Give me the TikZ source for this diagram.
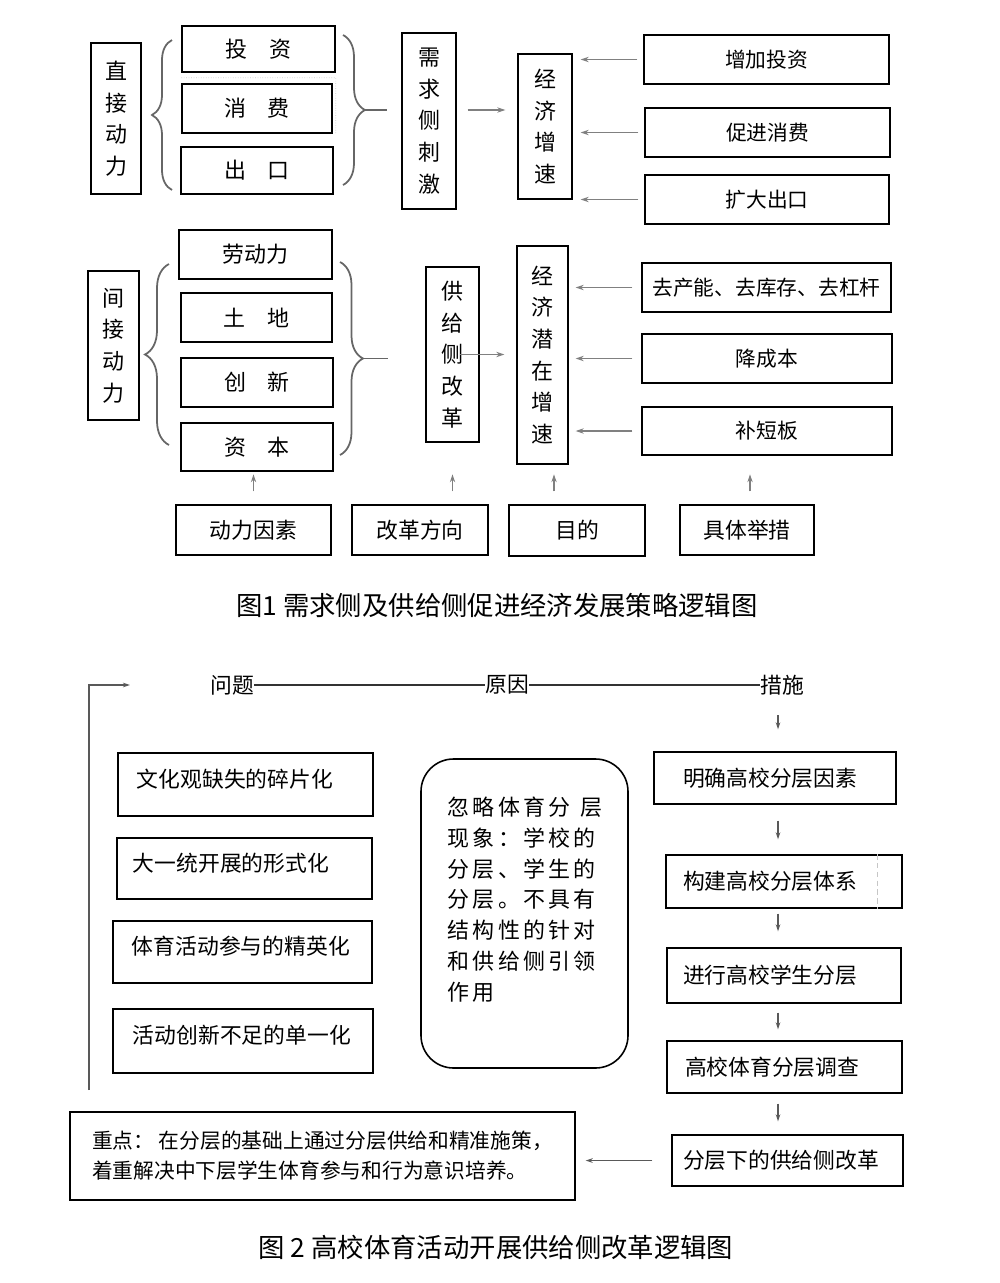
\documentclass[tikz,border=0pt]{standalone}
\usepackage{fontspec}
\setmainfont{Noto Sans CJK SC}
\newfontfamily\spacedfont[LetterSpace=15]{Noto Sans CJK SC}
\usetikzlibrary{arrows.meta,decorations.pathreplacing}

\newcommand{\boxfont}{\fontsize{12.5}{18}\selectfont}
\newcommand{\rightfont}{\fontsize{11.8}{14}\selectfont}
\newcommand{\planfont}{\fontsize{12.4}{15}\selectfont}
\newcommand{\notefont}{\fontsize{11.8}{17}\selectfont}
\newcommand{\roundfont}{\spacedfont\fontsize{12.5}{17.6}\selectfont}
\newcommand{\capfont}{\fontsize{15}{18}\selectfont}

\tikzset{
  box/.style={draw, line width=0.8pt, inner sep=0pt},
  itembox/.style={box, font=\boxfont},
  vbox/.style={box, align=center, font=\boxfont},
  rbox/.style={box, font=\rightfont},
  pbox/.style={box, align=left, font=\planfont},
  qbox/.style={pbox, text height=0.85em, text depth=0.55em},
  brc/.style={decorate, decoration={brace, amplitude=#1}, black!60, line width=1pt},
  garrow/.style={-{Stealth[length=4.5pt,width=3pt]}, black!50, line width=0.9pt},
  darr/.style={-{Stealth[length=4pt,width=2.6pt]}, black!65, line width=0.7pt},
}

\begin{document}
\begin{tikzpicture}[x=0.2mm, y=-0.2mm]
\path[fill=white] (0,0) rectangle (1000,1283);
\useasboundingbox (0,0) rectangle (1000,1283);

%Figure 1, demand side
\node[vbox, minimum width=10mm, minimum height=30.2mm] (zjdl) at (116,118.5) {直\\接\\动\\力};
\node[itembox, minimum width=30.6mm, minimum height=9.2mm] (tz) at (258.5,49) {投\quad 资};
\node[itembox, minimum width=30mm, minimum height=9.8mm] (xf) at (257,108.5) {消\quad 费};
\node[itembox, minimum width=30.4mm, minimum height=9.4mm] (ck) at (257,170.5) {出\quad 口};
\draw[gray!40, densely dotted] ([yshift=-1mm]tz.south west) -- ([yshift=-1mm]tz.south east) -- ([xshift=0.6mm]xf.south east);

\draw[brc=4mm] (172,190) -- (172,40);
\draw[brc=4.4mm] (343,35) -- (343,185);
\coordinate (rb1) at (387,110);
\draw[black!60, line width=1pt] ([xshift=-4.4mm]rb1) -- (rb1);

\node[vbox, minimum width=10.8mm, minimum height=35.2mm] (xqc) at (429,121) {需\\求\\侧\\刺\\激};
\node[vbox, minimum width=10.8mm, minimum height=29mm] (jjzs) at (545,126.5) {经\\济\\增\\速};
\draw[garrow, shorten <=2.2mm, shorten >=2.4mm] (rb1 -| xqc.east) -- (rb1 -| jjzs.west);

\node[rbox, minimum width=49mm, minimum height=9.8mm] (zjtz) at (766.5,59.5) {增加投资};
\node[rbox, minimum width=49mm, minimum height=9.8mm] (cjxf) at (767.5,132.5) {促进消费};
\node[rbox, minimum width=48.8mm, minimum height=9.8mm] (kdck) at (767,199.5) {扩大出口};
\foreach \n in {zjtz,cjxf,kdck}
  \draw[garrow, shorten <=1.2mm, shorten >=1.6mm] (\n.west) -- (\n.west -| jjzs.east);

%Figure 1, supply side
\node[vbox, minimum width=10.2mm, minimum height=29.8mm] (jjdl) at (113.5,345.5) {间\\接\\动\\力};
\node[itembox, minimum width=30.6mm, minimum height=9.8mm] (ldl) at (255.5,254.5) {劳动力};
\node[itembox, minimum width=30.2mm, minimum height=9.8mm] (td) at (256.5,317.5) {土\quad 地};
\node[itembox, minimum width=30.4mm, minimum height=9.8mm] (cx) at (257,382.5) {创\quad 新};
\node[itembox, minimum width=30.4mm, minimum height=9.6mm] (zb) at (257,447) {资\quad 本};

\draw[brc=4.8mm] (169,445) -- (169,264);
\draw[brc=4.6mm] (340,262) -- (340,455);
\coordinate (rb2) at (388,358.5);
\draw[black!60, line width=1pt] ([xshift=-5mm]rb2) -- (rb2);

\node[vbox, minimum width=10.6mm, minimum height=35mm] (gjc) at (452.5,354.5) {供\\给\\侧\\改\\革};
\node[vbox, minimum width=10.2mm, minimum height=43.6mm] (jjqz) at (542.5,355) {经\\济\\潜\\在\\增\\速};
\draw[garrow, shorten >=2.4mm] ([xshift=1.5mm]gjc.center) -- (gjc.center -| jjqz.west);

\node[rbox, minimum width=49.8mm, minimum height=9.8mm] (qcn) at (766.5,287.5) {去产能、去库存、去杠杆};
\node[rbox, minimum width=50mm, minimum height=9.8mm] (jcb) at (767,358.5) {降成本};
\node[rbox, minimum width=50mm, minimum height=9.6mm] (bdb) at (767,431) {补短板};
\foreach \n in {qcn,jcb,bdb}
  \draw[garrow, shorten <=1.8mm, shorten >=1.4mm] (\n.west) -- (\n.west -| jjqz.east);

%Row labels
\node[rbox, font=\planfont, minimum width=31mm, minimum height=10mm] (dlys) at (253.5,530) {动力因素};
\node[rbox, font=\planfont, minimum width=27.2mm, minimum height=10mm] (ggfx) at (420,530) {改革方向};
\node[rbox, font=\planfont, minimum width=27.2mm, minimum height=10.2mm] (md) at (577,530.5) {目的};
\node[rbox, font=\planfont, minimum width=26.8mm, minimum height=10mm] (jtjc) at (747,530) {具体举措};
\draw[garrow, line width=0.6pt] (dlys.north) ++(0,-13) -- ++(0,-17);
\draw[garrow, line width=0.6pt] (ggfx.north -| gjc.south) ++(0,-13) -- ++(0,-17);
\draw[garrow, line width=0.6pt] (md.north) ++(-23,-13) -- ++(0,-17);
\draw[garrow, line width=0.6pt] (jtjc.north) ++(3,-13) -- ++(0,-17);

\node[font=\capfont] (cap1) at (497,605) {图1 需求侧及供给侧促进经济发展策略逻辑图};

%Figure 2, header
\node[font=\planfont, inner sep=0pt] (wt) at (232,685) {问题};
\node[font=\planfont, inner sep=0pt] (yy) at (507,685) {原因};
\node[font=\planfont, inner sep=0pt] (cs) at (782,685) {措施};
\draw[black!80, line width=0.9pt] (wt) -- (yy);
\draw[black!80, line width=0.9pt] (yy) -- (cs);
\coordinate (lbot) at (89,1090);
\coordinate (ltop) at (130,685);
\draw[darr, line width=0.9pt] (lbot) |- (ltop);

%Problems
\node[qbox, text width=43.4mm, inner xsep=3.8mm, minimum height=12.6mm] (whg) at (245.5,784.5) {文化观缺失的碎片化};
\node[qbox, text width=44.6mm, inner xsep=3.2mm, minimum height=12.2mm] (dyt) at (244.5,868.5) {大一统开展的形式化};
\node[qbox, text width=44.2mm, inner xsep=3.8mm, minimum height=12.4mm] (tyhd) at (242.5,952) {体育活动参与的精英化};
\node[qbox, text width=44mm, inner xsep=4mm, minimum height=12.8mm] (hdcx) at (243,1041) {活动创新不足的单一化};

%Cause
\node[draw, line width=0.9pt, rounded corners=6.5mm, minimum width=41.4mm, minimum height=61.8mm] (hl) at (524.5,913.5) {};
\node[font=\roundfont, align=left, anchor=north west, inner sep=0pt] (hltxt) at ([shift={(27,38)}]hl.north west)
  {忽略体育分\hspace{0.45em}层\\现象：学校的\\分层、学生的\\分层。不具有\\结构性的针对\\和供给侧引领\\作用};

%Measures
\coordinate (ax) at (778,0);
\node[pbox, text width=36.8mm, inner xsep=5.8mm, minimum height=10.4mm] (mq) at (775,778) {明确高校分层因素};
\node[pbox, text width=40.4mm, inner xsep=3.4mm, minimum height=10.6mm] (gj) at (784,881.5) {构建高校分层体系};
\draw[gray!45, densely dashed, line width=0.4pt] ([xshift=-5mm]gj.north east) -- ([xshift=-5mm]gj.south east);
\node[pbox, text width=40.4mm, inner xsep=3.2mm, minimum height=11mm] (jx) at (784,975.5) {进行高校学生分层};
\node[pbox, text width=39.8mm, inner xsep=3.6mm, minimum height=10.4mm] (gx) at (784.5,1067) {高校体育分层调查};
\node[pbox, text width=41.8mm, inner xsep=2.2mm, minimum height=10.2mm] (fc) at (787.5,1160.5) {分层下的供给侧改革};

\draw[darr, shorten <=4mm, shorten >=4.4mm] (ax |- cs.south) -- (ax |- mq.north);
\draw[darr, shorten <=3.2mm, shorten >=3mm] (ax |- mq.south) -- (ax |- gj.north);
\draw[darr, shorten <=1mm, shorten >=3.2mm] (ax |- gj.south) -- (ax |- jx.north);
\draw[darr, shorten <=1.8mm, shorten >=2.2mm] (ax |- jx.south) -- (ax |- gx.north);
\draw[darr, shorten <=2mm, shorten >=2.6mm] (ax |- gx.south) -- (ax |- fc.north);

%Key point
\node[box, font=\notefont, align=left, minimum width=101mm, minimum height=17.6mm] (zd) at (322.5,1156)
  {重点：~在分层的基础上通过分层供给和精准施策，\\着重解决中下层学生体育参与和行为意识培养。};
\draw[darr, line width=0.9pt, shorten <=3.8mm, shorten >=2mm] (fc.west) -- (fc.west -| zd.east);

\node[font=\capfont] (cap2) at (496,1247) {图 2 高校体育活动开展供给侧改革逻辑图};

\end{tikzpicture}
\end{document}
